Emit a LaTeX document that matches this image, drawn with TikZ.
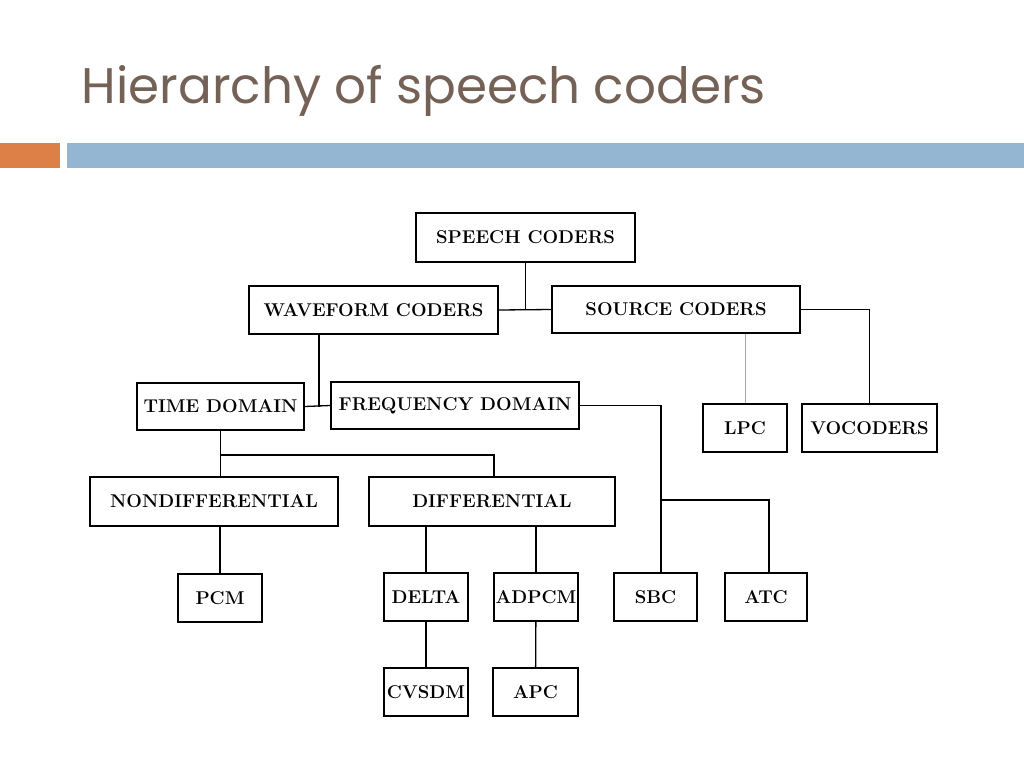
\documentclass[tikz,border=0pt]{standalone}
\usepackage{fontspec}
\newfontfamily\titlefont{Poppins}
\usepackage{tikz}
\tikzstyle{every path}=[line width=1.3pt]
\tikzstyle{coder}=[draw, inner sep=0pt, font=\fontsize{18.5}{21}\selectfont\bfseries]
\definecolor{titlebrown}{RGB}{117,98,87}
\definecolor{baraccent}{RGB}{221,128,71}
\definecolor{barblue}{RGB}{148,182,210}

\begin{document}
\begin{tikzpicture}[x=1pt, y=-1pt]
    \useasboundingbox (0,0) rectangle (1024,768);
    \node[anchor=base west, inner sep=0pt, text=titlebrown,
          font=\titlefont\fontsize{50}{56}\selectfont] (title) at (81,103)
          {Hierarchy of speech coders};
    \fill[baraccent] (0,143) rectangle (60,168);
    \fill[barblue] (67,143) rectangle (1024,168);

    \node[coder, minimum width=219, minimum height=49] (speech) at (525.5,237.5) {SPEECH CODERS};
    \node[coder, minimum width=249, minimum height=48] (wave) at (373.5,310) {WAVEFORM CODERS};
    \node[coder, minimum width=248, minimum height=47] (source) at (676,309.5) {SOURCE CODERS};
    \node[coder, minimum width=167, minimum height=47] (time) at (220.5,406.5) {TIME DOMAIN};
    \node[coder, minimum width=248, minimum height=47] (freq) at (455,405.5) {FREQUENCY DOMAIN};
    \node[coder, minimum width=84, minimum height=48] (lpc) at (745,428) {LPC};
    \node[coder, minimum width=135, minimum height=48] (voc) at (869.5,428) {VOCODERS};
    \node[coder, minimum width=248, minimum height=49] (nondiff) at (214,501.5) {NONDIFFERENTIAL};
    \node[coder, minimum width=246, minimum height=49] (diff) at (492,501.5) {DIFFERENTIAL};
    \node[coder, minimum width=84, minimum height=48] (pcm) at (220,598) {PCM};
    \node[coder, minimum width=84, minimum height=48] (delta) at (426,597) {DELTA};
    \node[coder, minimum width=84, minimum height=48] (adpcm) at (536,597) {ADPCM};
    \node[coder, minimum width=83, minimum height=48] (sbc) at (655.5,597) {SBC};
    \node[coder, minimum width=82, minimum height=48] (atc) at (766,597) {ATC};
    \node[coder, minimum width=84, minimum height=48] (cvsdm) at (426,692) {CVSDM};
    \node[coder, minimum width=85, minimum height=48] (apc) at (535.5,692) {APC};

    % top level
    \draw (speech.south) -- (speech.south |- wave.east);
    \draw (wave.east) -- (source.west);
    \draw (source.east) -| (voc.north);
    \draw[draw=black!35, line width=0.8pt] (source.south -| lpc.north) -- (lpc.north);

    % waveform branch
    \draw ([xshift=-54.5pt]wave.south) -- ([xshift=-54.5pt]wave.south |- time.east);
    \draw (time.east) -- (freq.west);
    \coordinate (fsplit) at (661,500);
    \draw (freq.east) -| (fsplit) -- (fsplit |- sbc.north);
    \draw (fsplit) -| ([xshift=3pt]atc.north);

    % time domain branch
    \coordinate (tsplit) at (220.5,455);
    \draw (time.south) -- (tsplit) -| ([xshift=2pt]diff.north);
    \draw (tsplit) -- (tsplit |- nondiff.north);
    \draw (nondiff.south -| pcm.north) -- (pcm.north);
    \draw (diff.south -| delta.north) -- (delta.north);
    \draw (diff.south -| adpcm.north) -- (adpcm.north);
    \draw (delta) -- (cvsdm);
    \draw (adpcm) -- (apc);
\end{tikzpicture}
\end{document}
